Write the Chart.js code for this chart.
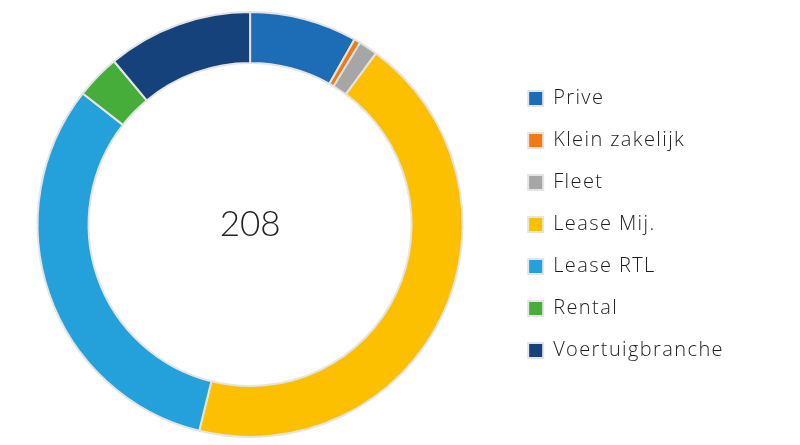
<!DOCTYPE html>
<html>
<head>
<meta charset="utf-8">
<script src="https://cdn.jsdelivr.net/npm/chart.js@4.4.1/dist/chart.umd.min.js"></script>
<style>
html,body{margin:0;padding:0;background:#fff;overflow:hidden;}
#wrap{position:relative;width:800px;height:445px;overflow:hidden;}
#c{position:absolute;left:-6px;top:0;}
</style>
</head>
<body>
<div id="wrap"><canvas id="c" width="806" height="445"></canvas></div>
<script>
const categories = ["Prive","Klein zakelijk","Fleet","Lease Mij.","Lease RTL","Rental","Voertuigbranche"];
const values = [17, 1, 3, 91, 66, 7, 23];
const colors = ["#1d6db6","#f07b14","#a6a6a6","#fcc000","#24a0db","#47ad3a","#15427a"];
const total = values.reduce((a,b)=>a+b,0);

const spacing = {
  id:'spacing',
  beforeUpdate(chart){ chart.ctx.letterSpacing = '1.4px'; },
  beforeDraw(chart){ chart.ctx.letterSpacing = '1.4px'; }
};

const centerText = {
  id:'centerText',
  afterDatasetsDraw(chart){
    const arc = chart.getDatasetMeta(0).data[0];
    if(!arc) return;
    const ctx = chart.ctx;
    ctx.save();
    ctx.letterSpacing = '0px';
    ctx.font = '300 35px Lato';
    ctx.fillStyle = '#222';
    ctx.textAlign = 'center';
    ctx.textBaseline = 'middle';
    ctx.fillText(String(total), arc.x, arc.y);
    ctx.restore();
  }
};

new Chart(document.getElementById('c'), {
  type:'doughnut',
  data:{
    labels:categories,
    datasets:[{
      data:values,
      backgroundColor:colors,
      borderColor:'#e4e4e4',
      borderWidth:2
    }]
  },
  options:{
    responsive:false,
    animation:false,
    cutout:'76%',
    layout:{padding:{top:11,bottom:7,left:0,right:66}},
    plugins:{
      tooltip:{enabled:false},
      legend:{
        position:'right',
        align:'center',
        labels:{
          boxWidth:15,
          boxHeight:15,
          padding:22,
          color:'#1e1e1e',
          font:{family:'"Open Sans"',size:20,weight:'300'}
        }
      }
    }
  },
  plugins:[spacing, centerText]
});
</script>
</body>
</html>
